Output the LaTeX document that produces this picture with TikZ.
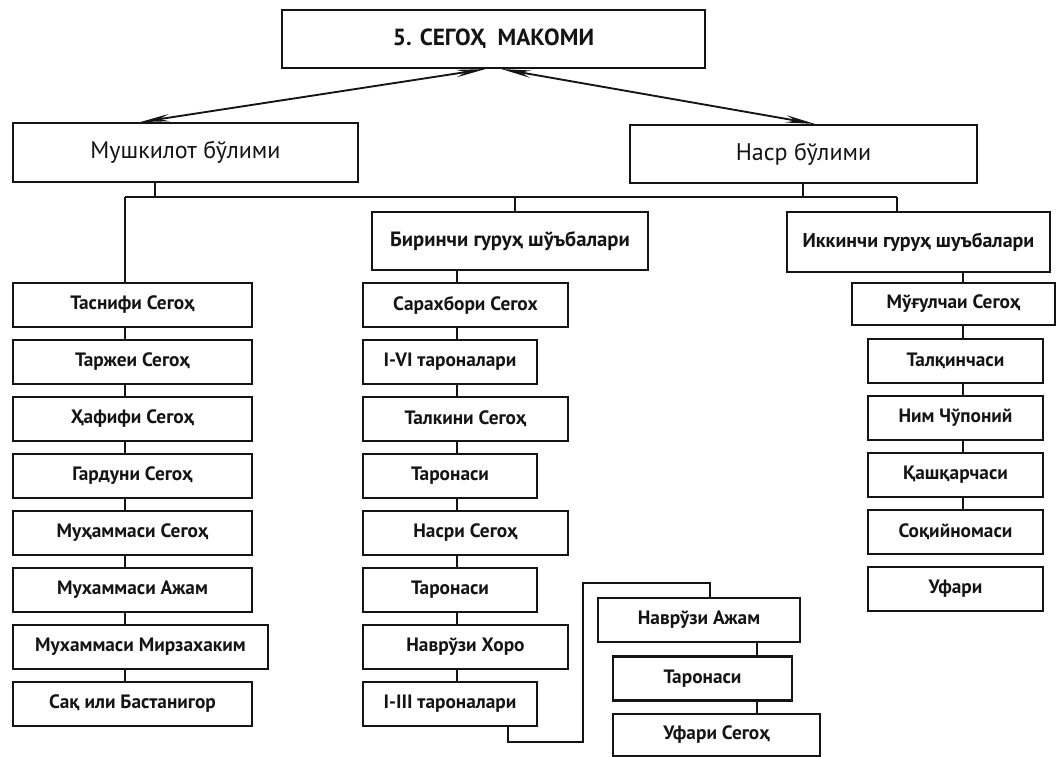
\documentclass[tikz,border=0pt]{standalone}
\usepackage{fontspec}
\setmainfont{PT Sans}
\usepackage{tikz}
\usetikzlibrary{arrows.meta,positioning,calc}
\definecolor{ink}{HTML}{141414}

\begin{document}
\begin{tikzpicture}[x=0.75pt, y=-0.75pt,
  box/.style={draw=ink, line width=1.6pt, inner sep=0pt, minimum height=33pt,
    text=ink, font=\bfseries\fontsize{14.5}{16}\selectfont},
  link/.style={draw=ink, line width=1.2pt},
  tick/.style={draw=ink, line width=0.8pt},
  fork/.style={draw=ink, line width=1.4pt,
    {Stealth[length=22pt,width=5.5pt]}-{Stealth[length=22pt,width=5.5pt]}}]
  \useasboundingbox (0,0) rectangle (1057,757);

  % upper levels
  \node[box, minimum width=317pt, minimum height=43.5pt,
        font=\bfseries\fontsize{17.5}{19}\selectfont] (root) at (493.5,39) {5. СЕГОҲ\ \ МАКОМИ};
  \node[box, minimum width=259pt, minimum height=44pt,
        font=\fontsize{18}{20}\selectfont] (mush) at (185.5,152.5) {Мушкилот бўлими};
  \node[box, minimum width=260pt, minimum height=43.5pt,
        font=\fontsize{18}{20}\selectfont] (nasr) at (803.5,154) {Наср бўлими};
  \node[box, minimum width=207pt, minimum height=43.5pt,
        font=\bfseries\fontsize{15.5}{17}\selectfont] (bir) at (510,241) {Биринчи гуруҳ шўъбалари};
  \node[box, minimum width=197pt, minimum height=45pt,
        font=\bfseries\fontsize{15}{17}\selectfont] (ikk) at (918.5,242) {Иккинчи гуруҳ шуъбалари};

  \coordinate (ml) at (140,0);
  \coordinate (nr) at (815,0);
  \draw[fork] ([xshift=-6pt]root.south) -- (mush.north -| ml);
  \draw[fork] ([xshift=6pt]root.south) -- (nasr.north -| nr);

  % bus
  \coordinate (busl) at (125,197);
  \coordinate (busr) at (897,197);
  \coordinate (mt) at (155,197);
  \coordinate (nt) at (803,197);
  \coordinate (bt) at (515,197);
  \draw[link] (busl) -- (busr);
  \draw[tick] (mush.south -| mt) -- (mt);
  \draw[tick] (nasr.south -| nt) -- (nt);
  \draw[tick] (bt) -- (bir.north -| bt);
  \draw[tick] (busr) -- (ikk.north -| busr);

  % Mushkilot column
  \foreach \i/\w/\txt in {0/239/Таснифи Сегоҳ, 1/239/Таржеи Сегоҳ, 2/239/Ҳафифи Сегоҳ,
      3/239/Гардуни Сегоҳ, 4/239/Муҳаммаси Сегоҳ, 5/239/Мухаммаси Ажам,
      6/255/Мухаммаси Мирзахаким, 7/239/Сақ или Бастанигор}{
    \pgfmathsetmacro{\cy}{305+57*\i}
    \pgfmathsetmacro{\cx}{13+\w/2}
    \pgfmathsetmacro{\bw}{0.75*\w}
    \node[box, minimum width=\bw pt] (l\i) at (\cx,\cy) {\txt};
  }
  \draw[link] (busl) -- (l0.north -| busl);
  \foreach \i in {0,...,6}{
    \pgfmathtruncatemacro{\j}{\i+1}
    \draw[tick] (l\i.south -| busl) -- (l\j.north -| busl);
  }

  % first group
  \coordinate (ma) at (457,0);
  \foreach \i/\w/\txt in {0/205/Сарахбори Сегох, 1/174/I-VI тароналари, 2/205/Талкини Сегоҳ,
      3/174/Таронаси, 4/205/Насри Сегоҳ, 5/174/Таронаси,
      6/205/Наврўзи Хоро, 7/174/I-III тароналари}{
    \pgfmathsetmacro{\cy}{305+57*\i}
    \pgfmathsetmacro{\cx}{363+\w/2}
    \pgfmathsetmacro{\bw}{0.75*\w}
    \node[box, minimum width=\bw pt] (m\i) at (\cx,\cy) {\txt};
  }
  \draw[tick] (bir.south -| ma) -- (m0.north -| ma);
  \foreach \i in {0,...,6}{
    \pgfmathtruncatemacro{\j}{\i+1}
    \draw[tick] (m\i.south -| ma) -- (m\j.north -| ma);
  }

  % second group
  \coordinate (ra) at (963,0);
  \node[box, minimum width=152pt, minimum height=31.5pt] (r0) at (953.5,304) {Мўғулчаи Сегоҳ};
  \foreach \i/\txt in {1/Талқинчаси, 2/Ним Чўпоний, 3/Қашқарчаси, 4/Соқийномаси, 5/Уфари}{
    \pgfmathsetmacro{\cy}{304+57*\i}
    \node[box, minimum width=131pt] (r\i) at (955.5,\cy) {\txt};
  }
  \draw[tick] (ikk.south -| ra) -- (r0.north -| ra);
  \foreach \i in {0,...,3}{
    \pgfmathtruncatemacro{\j}{\i+1}
    \draw[tick] (r\i.south -| ra) -- (r\j.north -| ra);
  }

  % Navruzi Ajam branch
  \node[box, minimum width=151.5pt] (najam) at (699,620) {Наврўзи Ажам};
  \node[box, minimum width=134pt] (ntar) at (702.5,678.5) {Таронаси};
  \node[box, minimum width=155pt, minimum height=31.5pt] (ufseg) at (716.5,735) {Уфари Сегоҳ};
  \coordinate (tk8) at (508,742);
  \coordinate (bendA) at (583,742);
  \coordinate (bendB) at (583,583);
  \coordinate (bendC) at (710,583);
  \coordinate (ba) at (757,0);
  \draw[link] (m7.south -| tk8) -- (tk8) -- (bendA) -- (bendB) -- (bendC) -- (najam.north -| bendC);
  \draw[tick] (najam.south -| ba) -- (ntar.north -| ba);
  \draw[tick] (ntar.south -| ba) -- (ufseg.north -| ba);
\end{tikzpicture}
\end{document}
